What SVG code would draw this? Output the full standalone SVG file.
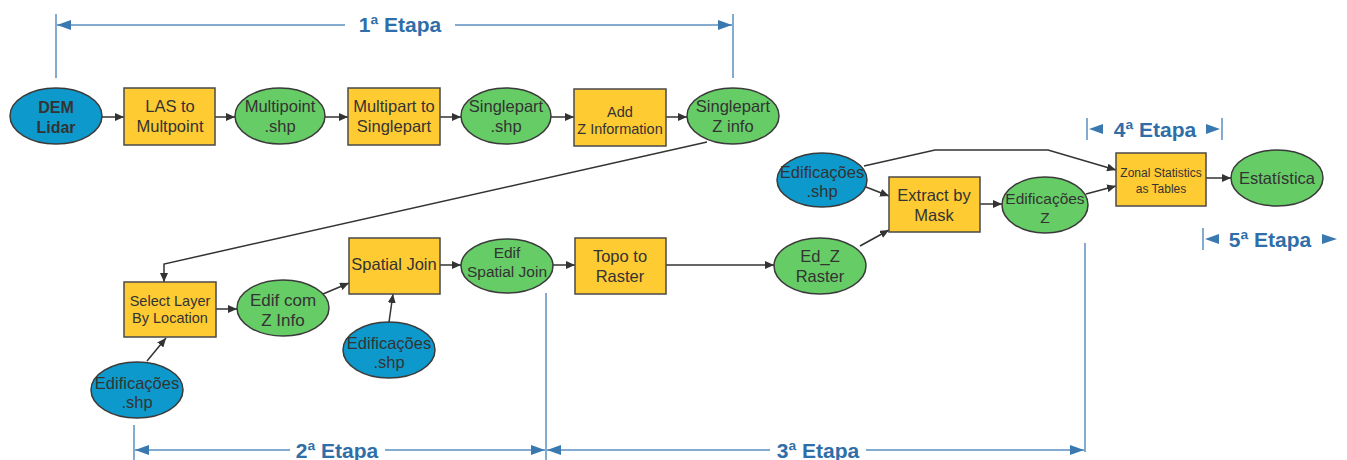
<svg xmlns="http://www.w3.org/2000/svg" width="1347" height="460" viewBox="0 0 1347 460">
<defs>
<marker id="ah" markerUnits="userSpaceOnUse" markerWidth="9" markerHeight="8" refX="9" refY="4" orient="auto"><path d="M0,0 L9,4 L0,8 z" fill="#333"/></marker>
<marker id="bh" markerUnits="userSpaceOnUse" markerWidth="14" markerHeight="10" refX="14" refY="5" orient="auto"><path d="M0,0 L14,5 L0,10 z" fill="#3a78b0"/></marker>
<style>
.blue{fill:#0d99cc;stroke:#3a3a3a;stroke-width:1.5}
.green{fill:#66cc66;stroke:#3a3a3a;stroke-width:1.5}
.yel{fill:#ffcb33;stroke:#4a4a4a;stroke-width:1.5}
text{font-family:"Liberation Sans",Arial,sans-serif;fill:#333;text-anchor:middle}
.t{font-size:16.5px}
.b{font-weight:bold;font-size:16px}
.c{stroke:#333;stroke-width:1.5;fill:none;marker-end:url(#ah)}
.e{stroke:#5a8fc0;stroke-width:1.5;fill:none}
.et{font-weight:bold;font-size:21px;fill:#2f6ea8}
.tri{fill:#3a78b0}
</style>
</defs>
<g id="etapas">
<line class="e" x1="56" y1="14" x2="56" y2="78"/>
<line class="e" x1="733" y1="14" x2="733" y2="78"/>
<line class="e" x1="345" y1="25" x2="57" y2="25" marker-end="url(#bh)"/>
<line class="e" x1="455" y1="25" x2="732" y2="25" marker-end="url(#bh)"/>
<text class="et" x="400" y="32">1ª Etapa</text>
<line class="e" x1="134" y1="425" x2="134" y2="460"/>
<line class="e" x1="546" y1="293" x2="546" y2="460"/>
<line class="e" x1="290" y1="450" x2="135" y2="450" marker-end="url(#bh)"/>
<line class="e" x1="385" y1="450" x2="545" y2="450" marker-end="url(#bh)"/>
<text class="et" x="337" y="458">2ª Etapa</text>
<line class="e" x1="1085" y1="243" x2="1085" y2="452"/>
<line class="e" x1="770" y1="450" x2="547" y2="450" marker-end="url(#bh)"/>
<line class="e" x1="866" y1="450" x2="1084" y2="450" marker-end="url(#bh)"/>
<text class="et" x="818" y="458">3ª Etapa</text>
<line class="e" x1="1087" y1="118" x2="1087" y2="140"/>
<line class="e" x1="1222" y1="118" x2="1222" y2="140"/>
<path class="tri" d="M1089,129 L1103,124 L1103,134 z"/>
<path class="tri" d="M1220,129 L1206,124 L1206,134 z"/>
<text class="et" x="1155" y="137">4ª Etapa</text>
<line class="e" x1="1203" y1="228" x2="1203" y2="250"/>
<path class="tri" d="M1205,239 L1219,234 L1219,244 z"/>
<path class="tri" d="M1337,239 L1322,234 L1322,244 z"/>
<text class="et" x="1270" y="247">5ª Etapa</text>
</g>
<g id="connectors">
<line class="c" x1="102" y1="117" x2="124" y2="117"/>
<line class="c" x1="215" y1="117" x2="235" y2="117"/>
<line class="c" x1="325" y1="117" x2="348" y2="117"/>
<line class="c" x1="440" y1="117" x2="461" y2="117"/>
<line class="c" x1="551" y1="117" x2="574" y2="117"/>
<line class="c" x1="666" y1="117" x2="687" y2="117"/>
<polyline class="c" points="707,142 164,264 164,282"/>
<line class="c" x1="216" y1="309" x2="237" y2="309"/>
<line class="c" x1="147" y1="361" x2="166" y2="338"/>
<line class="c" x1="323" y1="294" x2="349" y2="283"/>
<line class="c" x1="389" y1="322" x2="393" y2="294"/>
<line class="c" x1="440" y1="265" x2="461" y2="265"/>
<line class="c" x1="553" y1="265" x2="575" y2="265"/>
<line class="c" x1="666" y1="265" x2="774" y2="265"/>
<line class="c" x1="860" y1="246" x2="889" y2="230"/>
<line class="c" x1="866" y1="187" x2="889" y2="196"/>
<polyline class="c" points="864,166 935,150 1048,150 1116,170"/>
<line class="c" x1="980" y1="204" x2="1002" y2="204"/>
<line class="c" x1="1086" y1="194" x2="1116" y2="186"/>
<line class="c" x1="1206" y1="178" x2="1231" y2="178"/>
</g>
<g id="dem"><ellipse class="blue" cx="56" cy="116" rx="46" ry="28"/><text class="b" x="56" y="113">DEM</text><text class="b" x="56" y="133">Lidar</text></g>
<g id="las"><rect class="yel" x="124" y="88" width="91" height="57"/><text class="t" x="170" y="112">LAS to</text><text class="t" x="170" y="132">Multpoint</text></g>
<g id="multipoint"><ellipse class="green" cx="280" cy="116" rx="45" ry="28"/><text class="t" x="280" y="112">Multipoint</text><text class="t" x="280" y="132">.shp</text></g>
<g id="multipart"><rect class="yel" x="348" y="88" width="92" height="57"/><text class="t" x="394" y="112">Multipart to</text><text class="t" x="394" y="132">Singlepart</text></g>
<g id="singlepart"><ellipse class="green" cx="506" cy="116" rx="45" ry="28"/><text class="t" x="506" y="112">Singlepart</text><text class="t" x="506" y="132">.shp</text></g>
<g id="addz"><rect class="yel" x="574" y="89" width="92" height="57"/><text x="620" y="117" font-size="14.5">Add</text><text x="620" y="134" font-size="14.5">Z Information</text></g>
<g id="singlepartz"><ellipse class="green" cx="733" cy="116" rx="46" ry="28"/><text class="t" x="733" y="112">Singlepart</text><text class="t" x="733" y="132">Z info</text></g>
<g id="selectlayer"><rect class="yel" x="124" y="282" width="92" height="55"/><text x="170" y="306" font-size="14.5">Select Layer</text><text x="170" y="323" font-size="14.5">By Location</text></g>
<g id="edifcomz"><ellipse class="green" cx="283" cy="308" rx="46" ry="28"/><text x="283" y="306" font-size="17">Edif com</text><text x="283" y="326" font-size="17">Z Info</text></g>
<g id="edif1"><ellipse class="blue" cx="137" cy="390" rx="46" ry="28"/><text class="t" x="137" y="389">Edificações</text><text class="t" x="137" y="408">.shp</text></g>
<g id="spatialjoin"><rect class="yel" x="349" y="238" width="91" height="56"/><text class="t" x="394" y="270">Spatial Join</text></g>
<g id="edif2"><ellipse class="blue" cx="389" cy="350" rx="46" ry="28"/><text class="t" x="389" y="349">Edificações</text><text class="t" x="389" y="368">.shp</text></g>
<g id="edifsj"><ellipse class="green" cx="507" cy="266" rx="46" ry="27"/><text x="507" y="258" font-size="15.5">Edif</text><text x="507" y="277" font-size="15.5">Spatial Join</text></g>
<g id="topo"><rect class="yel" x="575" y="238" width="91" height="56"/><text class="t" x="620" y="262">Topo to</text><text class="t" x="620" y="282">Raster</text></g>
<g id="edzraster"><ellipse class="green" cx="820" cy="266" rx="46" ry="28"/><text class="t" x="820" y="262">Ed_Z</text><text class="t" x="820" y="282">Raster</text></g>
<g id="edif3"><ellipse class="blue" cx="822" cy="180" rx="45" ry="27"/><text class="t" x="822" y="178">Edificações</text><text class="t" x="822" y="197">.shp</text></g>
<g id="extract"><rect class="yel" x="889" y="177" width="91" height="55"/><text class="t" x="934" y="201">Extract by</text><text class="t" x="934" y="221">Mask</text></g>
<g id="edifz"><ellipse class="green" cx="1045" cy="205" rx="43" ry="28"/><text x="1045" y="204" font-size="15.5">Edificações</text><text x="1045" y="223" font-size="15.5">Z</text></g>
<g id="zonal"><rect class="yel" x="1116" y="153" width="90" height="53"/><text x="1161" y="177" font-size="12">Zonal Statistics</text><text x="1161" y="193" font-size="12">as Tables</text></g>
<g id="estat"><ellipse class="green" cx="1277" cy="178" rx="46" ry="28"/><text class="t" x="1277" y="184">Estatística</text></g>
</svg>
